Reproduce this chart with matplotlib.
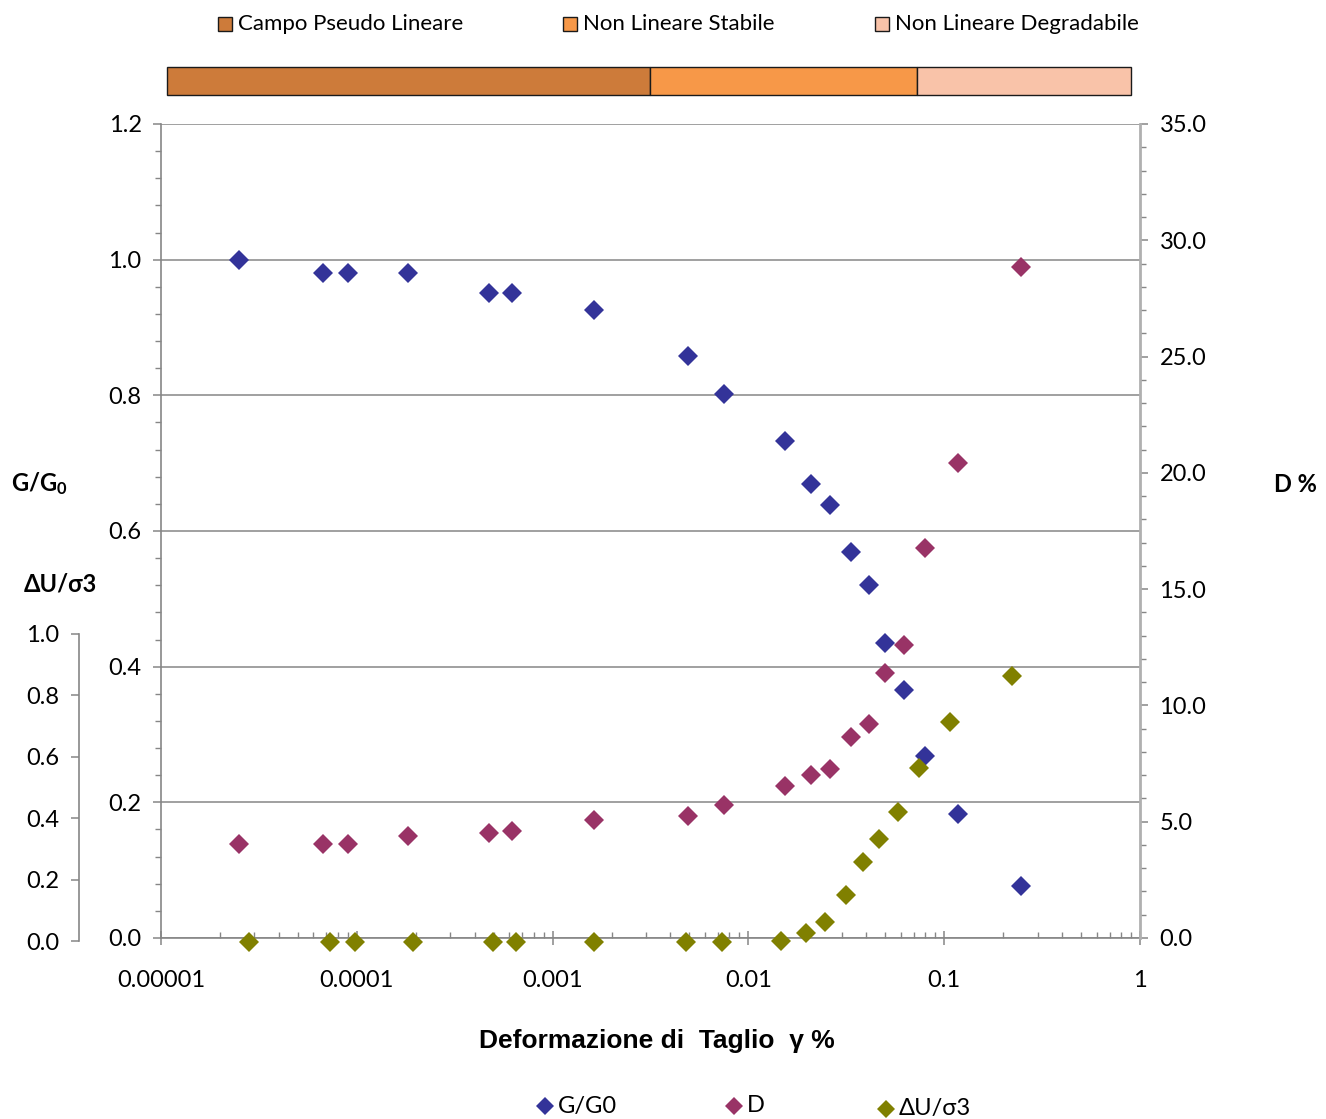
import numpy as np
import matplotlib
matplotlib.use("Agg")
import matplotlib.pyplot as plt
from matplotlib.ticker import FixedLocator, MultipleLocator, LogLocator, NullFormatter, FuncFormatter
from matplotlib.patches import Rectangle
from matplotlib.lines import Line2D

plt.rcParams['font.family'] = ['Lato', 'Open Sans', 'DejaVu Sans']
plt.rcParams['mathtext.fontset'] = 'custom'
plt.rcParams['mathtext.bf'] = 'Lato:bold'
plt.rcParams['mathtext.rm'] = 'Lato'

# ---------------- data ----------------
gamma_gd = [2.51e-5, 6.73e-5, 9.04e-5, 1.83e-4, 4.75e-4, 6.23e-4, 1.62e-3, 4.89e-3,
            7.47e-3, 0.0153, 0.0209, 0.0260, 0.0333, 0.0413, 0.0497, 0.0624,
            0.0802, 0.117, 0.248]
g_g0 = [1.00, 0.98, 0.98, 0.98, 0.951, 0.951, 0.926, 0.858, 0.802, 0.733, 0.669,
        0.638, 0.569, 0.520, 0.435, 0.365, 0.268, 0.183, 0.077]
damping = [4.04, 4.04, 4.04, 4.39, 4.51, 4.60, 5.07, 5.25, 5.72, 6.52, 7.02, 7.27,
           8.64, 9.21, 11.38, 12.61, 16.77, 20.42, 28.85]

gamma_du = [2.80e-5, 7.28e-5, 9.76e-5, 1.94e-4, 4.94e-4, 6.47e-4, 1.63e-3, 4.80e-3,
            7.32e-3, 0.0147, 0.0198, 0.0246, 0.0315, 0.0387, 0.0465, 0.0579,
            0.0744, 0.107, 0.223]
du_s3 = [-0.004, -0.004, -0.004, -0.004, -0.004, -0.004, -0.004, -0.004, -0.004,
         0.0, 0.027, 0.063, 0.150, 0.256, 0.332, 0.420, 0.562, 0.714, 0.861]

zone_names = ['Campo Pseudo Lineare', 'Non Lineare Stabile', 'Non Lineare Degradabile']
zone_fracs = [0.501, 0.277, 0.222]
zone_colors = ['#CD7B3A', '#F79848', '#F9C3A9']

x_ticks = [1e-5, 1e-4, 1e-3, 1e-2, 1e-1, 1]
x_ticklabels = ['0.00001', '0.0001', '0.001', '0.01', '0.1', '1']

C_G = '#333399'
C_D = '#993366'
C_U = '#808000'
GRAY = '#868686'

W, H = 1326, 1119
fig = plt.figure(figsize=(W / 100, H / 100), dpi=100)

def fx(x):
    return x / W

def fy(y):
    return 1 - y / H

TICKFS = 17
MS = 10

# ---------------- main axes ----------------
ax = fig.add_axes([fx(161), fy(938), (1140 - 161) / W, (938 - 124) / H])
ax.set_xscale('log')
ax.set_xlim(1e-5, 1)
ax.set_ylim(0, 1.2)
ax.patch.set_visible(False)
for s in ['top', 'right']:
    ax.spines[s].set_visible(False)
for s in ['left', 'bottom']:
    ax.spines[s].set_color(GRAY)
    ax.spines[s].set_linewidth(1.2)
ax.yaxis.set_major_locator(MultipleLocator(0.2))
ax.yaxis.set_minor_locator(MultipleLocator(0.04))
ax.yaxis.set_major_formatter(FuncFormatter(lambda v, p: f'{v:.1f}'))
ax.set_xticks(x_ticks)
ax.set_xticklabels(x_ticklabels)
ax.xaxis.set_minor_locator(LogLocator(base=10, subs=np.arange(2, 10)))
ax.xaxis.set_minor_formatter(NullFormatter())
ax.tick_params(axis='y', which='major', direction='out', length=6, width=1.1,
               color=GRAY, labelsize=TICKFS, pad=8)
ax.tick_params(axis='y', which='minor', direction='out', length=4, width=1.0, color=GRAY)
ax.tick_params(axis='x', which='major', direction='inout', length=10, width=1.1,
               color=GRAY, labelsize=TICKFS, pad=18)
ax.tick_params(axis='x', which='minor', direction='in', length=4, width=1.0, color=GRAY)
ax.grid(axis='y', which='major', color=GRAY, linewidth=1.1)
ax.set_axisbelow(True)
ax.plot(gamma_gd, g_g0, linestyle='none', marker='D', markersize=MS, color=C_G,
        markeredgewidth=0, clip_on=False, zorder=5)

# ---------------- D axis (right) ----------------
ax2 = ax.twinx()
ax2.set_ylim(0, 35)
ax2.patch.set_visible(False)
for s in ['top', 'left', 'bottom']:
    ax2.spines[s].set_visible(False)
ax2.spines['right'].set_color('#B0B0B0')
ax2.spines['right'].set_linewidth(2)
ax2.yaxis.set_major_locator(MultipleLocator(5))
ax2.yaxis.set_minor_locator(MultipleLocator(1))
ax2.yaxis.set_major_formatter(FuncFormatter(lambda v, p: f'{v:.1f}'))
ax2.tick_params(axis='y', which='major', direction='out', length=6, width=1.1,
                color=GRAY, labelsize=TICKFS, pad=8)
ax2.tick_params(axis='y', which='minor', direction='out', length=4, width=1.0, color=GRAY)
ax2.plot(gamma_gd, damping, linestyle='none', marker='D', markersize=MS, color=C_D,
         markeredgewidth=0, clip_on=False, zorder=5)

# ---------------- ΔU/σ3 axis (left, offset) ----------------
ax3 = fig.add_axes([fx(161), fy(941), (1140 - 161) / W, (941 - 633.7) / H])
ax3.set_xscale('log')
ax3.set_xlim(1e-5, 1)
ax3.set_ylim(0, 1)
ax3.patch.set_visible(False)
for s in ['top', 'right', 'bottom']:
    ax3.spines[s].set_visible(False)
ax3.spines['left'].set_position(('axes', (78.7 - 161) / (1140 - 161)))
ax3.spines['left'].set_color(GRAY)
ax3.spines['left'].set_linewidth(1.2)
ax3.set_xticks([])
ax3.xaxis.set_minor_locator(FixedLocator([]))
ax3.yaxis.set_major_locator(MultipleLocator(0.2))
ax3.yaxis.set_major_formatter(FuncFormatter(lambda v, p: f'{v:.1f}'))
ax3.tick_params(axis='y', which='major', direction='out', length=6, width=1.1,
                color=GRAY, labelsize=TICKFS, pad=8)
ax3.plot(gamma_du, du_s3, linestyle='none', marker='D', markersize=MS, color=C_U,
         markeredgewidth=0, clip_on=False, zorder=5)

# ---------------- axis titles ----------------
fig.text(fx(39), fy(484), r'$\mathbf{G/G_0}$', ha='center', va='center', fontsize=17)
fig.text(fx(60), fy(584), 'ΔU/σ3', ha='center', va='center', fontsize=17,
         fontweight='bold')
fig.text(fx(1295), fy(485), 'D %', ha='center', va='center', fontsize=17,
         fontweight='bold')
fig.text(fx(657), fy(1041), 'Deformazione di  Taglio  γ %', ha='center', va='center',
         fontsize=19, fontweight='bold', family=['Liberation Sans', 'DejaVu Sans'])

# ---------------- zone bar ----------------
axb = fig.add_axes([fx(167), fy(95), (1131 - 167) / W, (95 - 67) / H])
left = 0.0
for frac, col in zip(zone_fracs, zone_colors):
    axb.barh(0, frac, left=left, height=1, color=col, edgecolor='#1a1a1a', linewidth=1.0,
             clip_on=False)
    left += frac
axb.set_xlim(0, sum(zone_fracs))
axb.set_ylim(-0.5, 0.5)
axb.axis('off')

# top legend (zones)
leg_sq = [218, 563, 875]
for xs, name, col in zip(leg_sq, zone_names, zone_colors):
    fig.add_artist(Rectangle((fx(xs), fy(31)), 14 / W, 14 / H, transform=fig.transFigure,
                             facecolor=col, edgecolor='#1a1a1a', linewidth=1.0))
    fig.text(fx(xs + 20), fy(24), name, ha='left', va='center', fontsize=16)

# bottom legend (series)
leg_items = [(545, 1106, C_G, 'G/G0'), (734, 1106, C_D, 'D'), (886, 1109, C_U, 'ΔU/σ3')]
for xs, ys, col, name in leg_items:
    fig.add_artist(Line2D([fx(xs)], [fy(ys)], transform=fig.transFigure, marker='D',
                          markersize=9, color=col, markeredgewidth=0, linestyle='none'))
    fig.text(fx(xs + 13), fy(ys), name, ha='left', va='center', fontsize=17)

fig.savefig('out.png', dpi=100)
